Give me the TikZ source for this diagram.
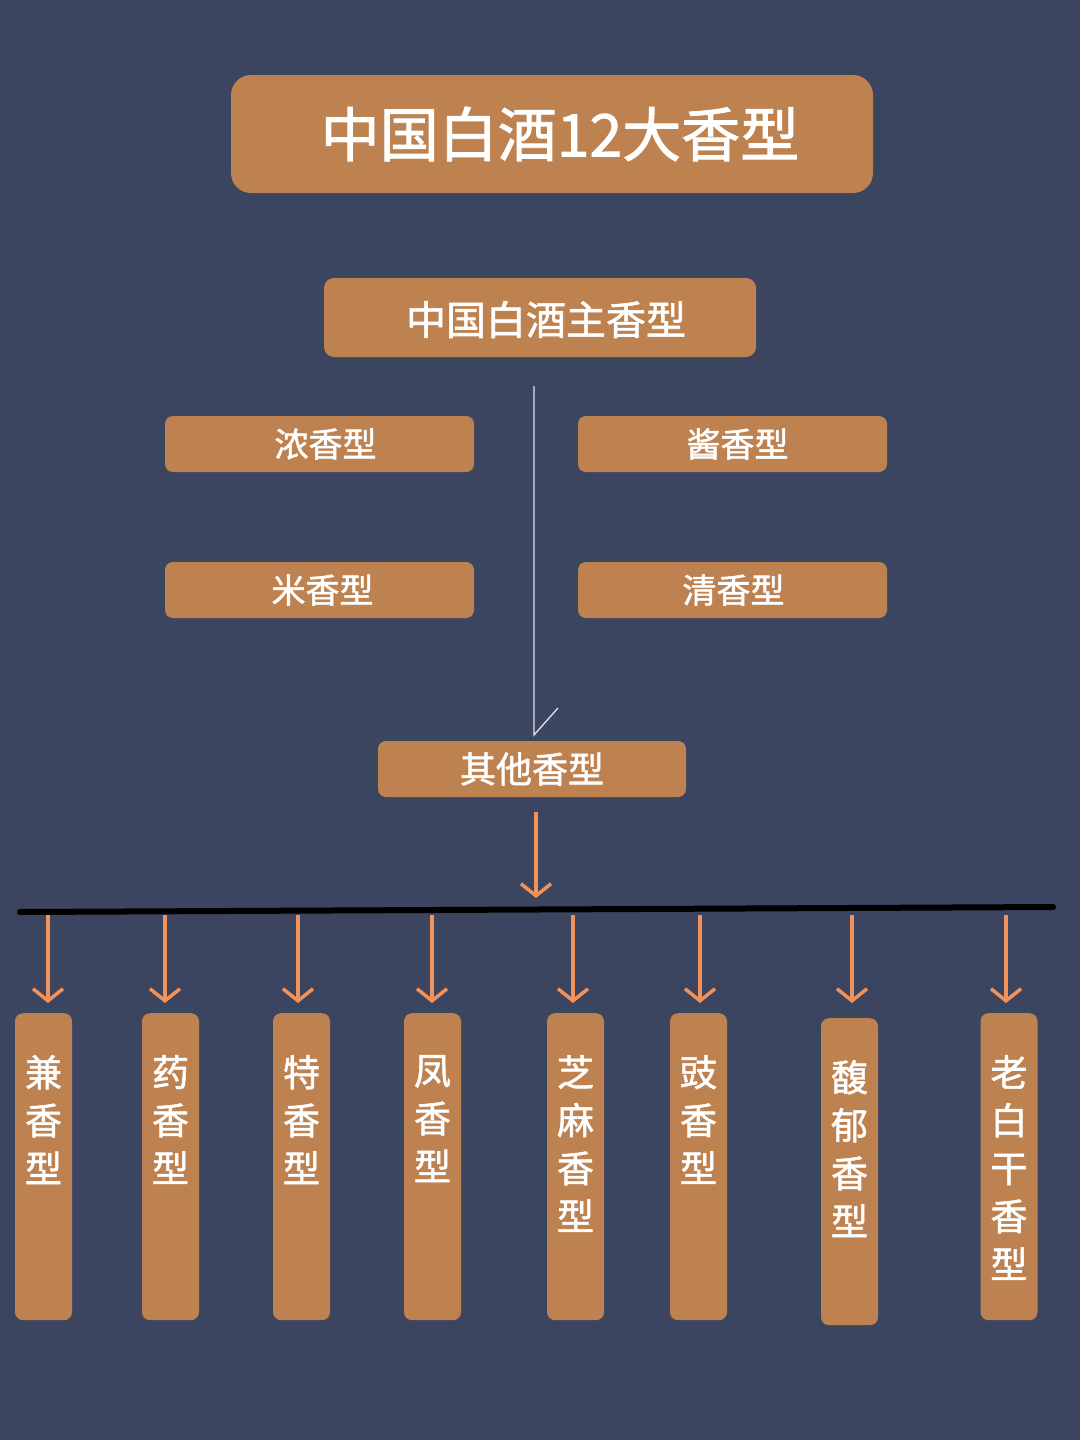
\documentclass[tikz,border=0pt]{standalone}
\usepackage{fontspec}
\setmainfont{Noto Sans CJK SC}[FakeBold=1.5,AutoFakeBold=1.5]
\usetikzlibrary{arrows.meta}
\definecolor{bg}{HTML}{3B4560}
\definecolor{boxc}{HTML}{BE8251}
\definecolor{arr}{HTML}{F0925A}
\tikzset{
 box/.style={fill=boxc,rounded corners=#1,inner sep=0pt,text=white},
 box/.default=8pt,
 lbl/.style={text=white,inner sep=0pt,font=\bfseries\fontsize{#1}{#1}\selectfont},
 oarr/.style={draw=arr,line width=3.5pt,-{Straight Barb[length=12pt,width=30pt,line width=3.5pt]}},
 vtext/.style={text=white,font=\bfseries\fontsize{37}{48}\selectfont,align=center,anchor=north,inner sep=0pt}
}
\begin{document}
\begin{tikzpicture}[x=1pt,y=-1pt]
\fill[bg] (0,0) rectangle (1080,1440);
\useasboundingbox (0,0) rectangle (1080,1440);
\node[box=20pt,minimum width=642pt,minimum height=118pt] (title) at (552,134) {};
\node[lbl=59] (titlet) at ([xshift=8pt]title.center) {中国白酒12大香型};
\node[box=10pt,minimum width=432pt,minimum height=79pt] (main) at (540,317.5) {};
\node[lbl=40] (maint) at ([xshift=6pt,yshift=-2pt]main.center) {中国白酒主香型};
\node[box,minimum width=309pt,minimum height=56pt] (nong) at (319.5,444) {};
\node[lbl=34] (nongt) at ([xshift=6pt]nong.center) {浓香型};
\node[box,minimum width=309pt,minimum height=56pt] (jiang) at (732.5,444) {};
\node[lbl=34] (jiangt) at ([xshift=5pt]jiang.center) {酱香型};
\node[box,minimum width=309pt,minimum height=56pt] (mi) at (319.5,590) {};
\node[lbl=34] (mit) at ([xshift=3pt]mi.center) {米香型};
\node[box,minimum width=309pt,minimum height=56pt] (qing) at (732.5,590) {};
\node[lbl=34] (qingt) at ([xshift=1pt]qing.center) {清香型};
\node[box,minimum width=308pt,minimum height=56pt,font=\bfseries\fontsize{36}{40}\selectfont] (other) at (532,769) {其他香型};
\coordinate (ls) at (534,386);
\coordinate (le) at (534,735);
\coordinate (lb) at (558,708);
\draw[white!85!bg,line width=1.3pt] (ls) -- (le) -- (lb);
\coordinate (oa) at (536,812);
\draw[oarr] (oa) -- (536,898);
\coordinate (bl) at (20,912);
\coordinate (br) at (1053,907);
\draw[black,line width=6pt,line cap=round] (bl) -- (br);
\foreach \i/\x/\top/\txt in {1/43.5/1013/兼\\香\\型,2/170.5/1013/药\\香\\型,3/301.5/1013/特\\香\\型,4/432.5/1013/凤\\香\\型,5/575.5/1013/芝\\麻\\香\\型,6/698.5/1013/豉\\香\\型,7/849.5/1018/馥\\郁\\香\\型,8/1009/1013/老\\白\\干\\香\\型}{
  \node[box,minimum width=57pt,minimum height=307pt,anchor=north] (v\i) at (\x,\top) {};
  \node[vtext] (t\i) at ([yshift=-42pt]v\i.north) {\txt};
}
\foreach \i/\x in {1/48,2/165,3/298,4/432,5/573,6/700,7/852,8/1006}{
  \coordinate (a\i) at (\x,915);
  \draw[oarr] (a\i) -- (\x,1003);
}
\end{tikzpicture}
\end{document}
